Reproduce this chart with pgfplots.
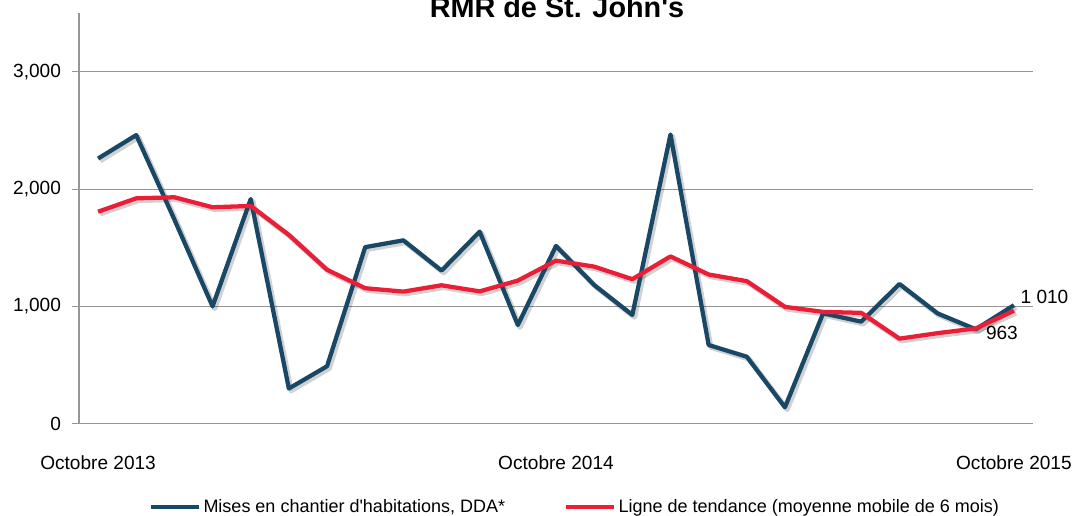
\documentclass[border=0pt]{standalone}
\usepackage{pgfplots}
\pgfplotsset{compat=1.18}
\usepackage{pgfplotstable}
\usepackage{fontspec}
\setmainfont{Liberation Sans}
\definecolor{starts}{RGB}{25,72,102}
\definecolor{trend}{RGB}{234,30,55}
\definecolor{gridgray}{RGB}{150,150,150}
\pgfplotstableread{
i starts trend
0 2260 1807
1 2460 1921
2 1740 1930
3 1000 1845
4 1915 1856
5 300 1609
6 490 1312
7 1505 1155
8 1563 1126
9 1305 1180
10 1637 1128
11 841 1220
12 1515 1390
13 1182 1339
14 927 1232
15 2465 1426
16 671 1272
17 571 1215
18 140 996
19 941 953
20 870 945
21 1191 725
22 940 772
23 805 812
24 1010 963
}\datatable
\newcommand{\lblfont}{\fontsize{13.5pt}{16pt}\selectfont}
\newcommand{\tickfont}{\fontsize{14.3pt}{17pt}\selectfont}
\begin{document}
\begin{tikzpicture}
\begin{axis}[
  at={(0,0)}, anchor=south west,
  scale only axis, width=715.5pt, height=308pt,
  xmin=-0.5, xmax=24.5, ymin=0, ymax=3500,
  axis lines*=left,
  axis line style={gridgray, line width=0.8pt},
  ytick={0,1000,2000,3000},
  ymajorgrids, grid style={gridgray, line width=0.8pt},
  tick align=outside,
  ytick style={gridgray, line width=0.8pt},
  major tick length=5pt,
  xtick={0,12,24},
  xticklabels={Octobre 2013, Octobre 2014, Octobre 2015},
  xtick style={draw=none},
  ticklabel style={font=\tickfont, text=black},
  xticklabel style={anchor=center, yshift=-24pt},
  yticklabel style={xshift=-5pt},
  /pgf/number format/assume math mode=true,
  /pgf/number format/1000 sep={,},
  clip=false,
  legend style={at={(axis description cs:0.52,-0.203)}, anchor=center, draw=none, fill=none,
    font=\lblfont, legend columns=2,
    /tikz/every even column/.append style={column sep=42pt}},
  legend cell align=left,
  legend image code/.code={\draw[#1, line width=3.2pt] (0pt,0pt) -- (36pt,0pt);},
]
\addplot[forget plot, black, opacity=0.18, line width=4pt, line join=round, transform canvas={xshift=1.6pt, yshift=-1.6pt}] table[x=i, y=starts] {\datatable};
\addplot[forget plot, black, opacity=0.18, line width=4pt, line join=round, transform canvas={xshift=1.6pt, yshift=-1.6pt}] table[x=i, y=trend] {\datatable};
\addplot[starts, line width=3.2pt, line join=round, mark=none] table[x=i, y=starts] {\datatable};
\addlegendentry{Mises en chantier d\textquotesingle habitations, DDA*}
\addplot[trend, line width=3.2pt, line join=round, mark=none] table[x=i, y=trend] {\datatable};
\addlegendentry{Ligne de tendance (moyenne mobile de 6 mois)}
\node[font=\tickfont, anchor=west, xshift=1.5pt, yshift=6pt] at (axis cs:24,1010) {1 010};
\node[font=\tickfont, anchor=center, xshift=-9pt, yshift=-16.5pt] at (axis cs:24,963) {963};
\end{axis}
\node[font=\fontsize{21.6pt}{24pt}\selectfont\bfseries, anchor=base] at (358.5pt,305pt) {RMR de St. John\textquotesingle s};
\pgfresetboundingbox
\useasboundingbox (-59.25pt,-69.2pt) rectangle (747.75pt,317.8pt);
\end{tikzpicture}
\end{document}
